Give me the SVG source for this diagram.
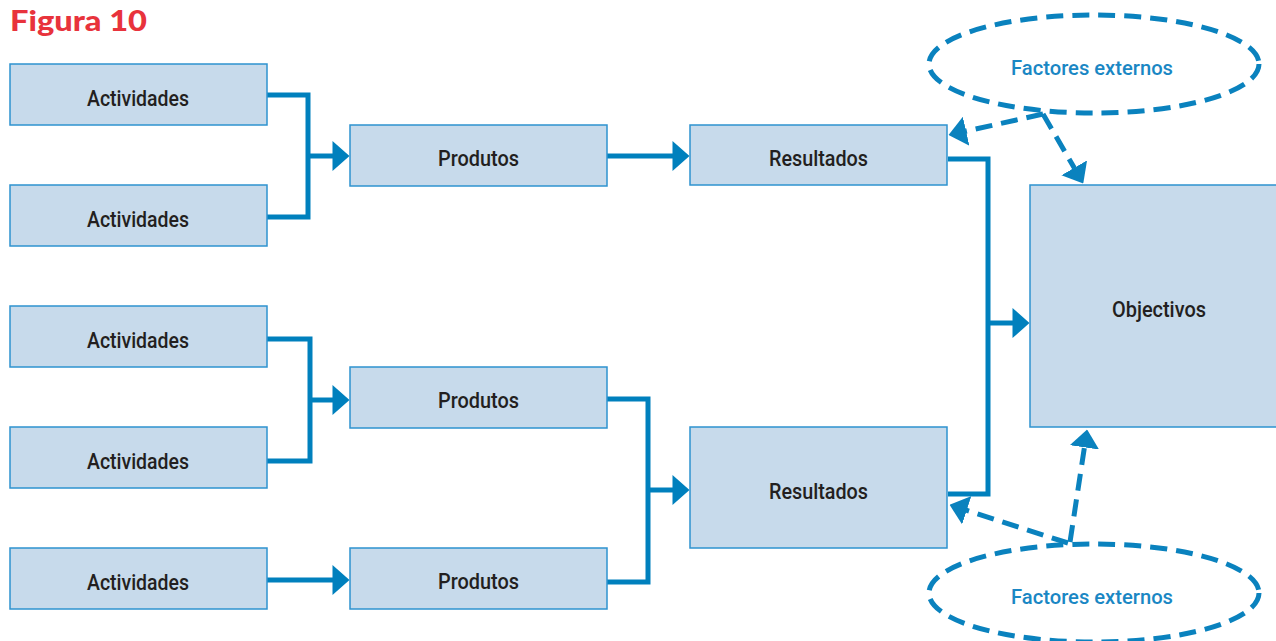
<svg xmlns="http://www.w3.org/2000/svg" width="1276" height="641" viewBox="0 0 1276 641">
<style>
.box{fill:#C7DAEB;stroke:#2E93CF;stroke-width:1.5}
.lbl{font-family:Roboto,"Liberation Sans",sans-serif;font-weight:500;font-size:22px;fill:#231F20;text-anchor:middle}
.ext{font-family:Roboto,"Liberation Sans",sans-serif;font-weight:500;font-size:21px;fill:#1A87C4;text-anchor:middle}
.con{fill:none;stroke:#0080BD;stroke-width:5}
.dash{fill:none;stroke:#0A82BE;stroke-width:5;stroke-dasharray:17 9}
.title{font-family:Lato,"Liberation Sans",sans-serif;font-weight:900;font-size:29px;fill:#E8333C}
</style>
<defs>
<marker id="ah" markerUnits="userSpaceOnUse" markerWidth="18" markerHeight="30" viewBox="0 0 17 30" refX="0.5" refY="15" orient="auto">
<path d="M0,0 L17,15 L0,30 Z" fill="#0080BD"/>
</marker>
<marker id="dh" markerUnits="userSpaceOnUse" markerWidth="18" markerHeight="30" viewBox="0 0 17 28" refX="0.5" refY="14" orient="auto">
<path d="M0,0 L17,14 L0,28 Z" fill="#0A82BE"/>
</marker>
</defs>
<text class="title" x="10" y="31" textLength="137" lengthAdjust="spacingAndGlyphs">Figura 10</text>

<g id="connectors">
<path class="con" d="M267,95 H308 V217 H267"/>
<path class="con" d="M308,156 H333" marker-end="url(#ah)"/>
<path class="con" d="M607,156 H673" marker-end="url(#ah)"/>
<path class="con" d="M948,159 H988 V494 H948"/>
<path class="con" d="M988,323 H1013" marker-end="url(#ah)"/>
<path class="con" d="M267,339 H310 V461 H267"/>
<path class="con" d="M310,400 H333" marker-end="url(#ah)"/>
<path class="con" d="M267,580 H333" marker-end="url(#ah)"/>
<path class="con" d="M607,399 H648 V582 H607"/>
<path class="con" d="M648,490 H673" marker-end="url(#ah)"/>
<path class="dash" d="M1043,114 L965.6,131.3" marker-end="url(#dh)"/>
<path class="dash" d="M1043,114 L1074.5,168.3" marker-end="url(#dh)"/>
<path class="dash" d="M1070,542 L1084.5,446.8" marker-end="url(#dh)"/>
<path class="dash" d="M1068,543 L966.2,510.2" marker-end="url(#dh)"/>
</g>

<g id="act1"><rect class="box" x="10" y="64" width="257" height="61"/><text class="lbl" x="138" y="106" textLength="102" lengthAdjust="spacingAndGlyphs">Actividades</text></g>
<g id="act2"><rect class="box" x="10" y="185" width="257" height="61"/><text class="lbl" x="138" y="227" textLength="102" lengthAdjust="spacingAndGlyphs">Actividades</text></g>
<g id="act3"><rect class="box" x="10" y="306" width="257" height="61"/><text class="lbl" x="138" y="348" textLength="102" lengthAdjust="spacingAndGlyphs">Actividades</text></g>
<g id="act4"><rect class="box" x="10" y="427" width="257" height="61"/><text class="lbl" x="138" y="469" textLength="102" lengthAdjust="spacingAndGlyphs">Actividades</text></g>
<g id="act5"><rect class="box" x="10" y="548" width="257" height="61"/><text class="lbl" x="138" y="590" textLength="102" lengthAdjust="spacingAndGlyphs">Actividades</text></g>

<g id="prod1"><rect class="box" x="350" y="125" width="257" height="61"/><text class="lbl" x="478.5" y="166" textLength="81" lengthAdjust="spacingAndGlyphs">Produtos</text></g>
<g id="prod2"><rect class="box" x="350" y="367" width="257" height="61"/><text class="lbl" x="478.5" y="408" textLength="81" lengthAdjust="spacingAndGlyphs">Produtos</text></g>
<g id="prod3"><rect class="box" x="350" y="548" width="257" height="61"/><text class="lbl" x="478.5" y="589" textLength="81" lengthAdjust="spacingAndGlyphs">Produtos</text></g>

<g id="res1"><rect class="box" x="690" y="125" width="257" height="60"/><text class="lbl" x="818.5" y="166" textLength="99" lengthAdjust="spacingAndGlyphs">Resultados</text></g>
<g id="res2"><rect class="box" x="690" y="427" width="257" height="121"/><text class="lbl" x="818.5" y="499" textLength="99" lengthAdjust="spacingAndGlyphs">Resultados</text></g>

<g id="obj"><rect class="box" x="1030" y="185" width="250" height="242"/><text class="lbl" x="1159" y="317" textLength="94" lengthAdjust="spacingAndGlyphs">Objectivos</text></g>

<g id="ext1"><ellipse class="dash" cx="1094" cy="64" rx="165" ry="49"/><text class="ext" x="1092" y="75" textLength="162" lengthAdjust="spacingAndGlyphs">Factores externos</text></g>
<g id="ext2"><ellipse class="dash" cx="1094" cy="593" rx="165" ry="49"/><text class="ext" x="1092" y="604" textLength="162" lengthAdjust="spacingAndGlyphs">Factores externos</text></g>
</svg>
